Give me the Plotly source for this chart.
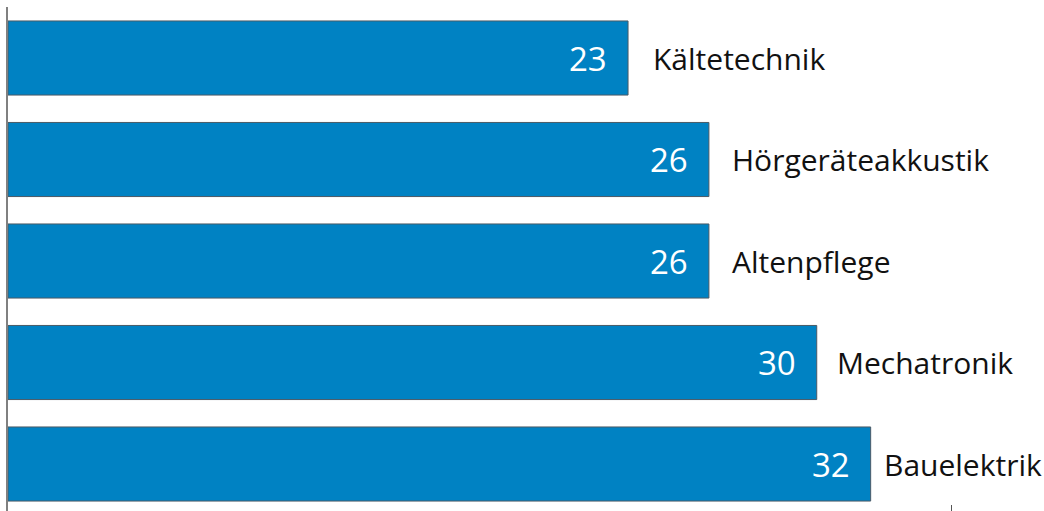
import plotly.graph_objects as go

categories = ["Kältetechnik", "Hörgeräteakkustik", "Altenpflege", "Mechatronik", "Bauelektrik"]
values = [23, 26, 26, 30, 32]
value_labels = ["23", "26", "26", "30", "32"]

label_gap = [23, 21, 21, 18, 11]

BAR = "#0082c3"
FONT = "Open Sans"

fig = go.Figure()
fig.add_trace(go.Bar(
    x=values, y=categories, orientation="h",
    marker=dict(color=BAR, line=dict(color="#4a5a66", width=1)),
    width=0.73, hoverinfo="skip",
))

for c, v, t, g in zip(categories, values, value_labels, label_gap):
    fig.add_annotation(x=v, y=c, text=t, showarrow=False, xanchor="right",
                       xshift=-19, font=dict(family=FONT, size=33, color="white"))
    fig.add_annotation(x=v, y=c, text=c, showarrow=False, xanchor="left",
                       xshift=g, font=dict(family=FONT, size=30, color="#111111"))

fig.update_layout(
    width=1044, height=511,
    margin=dict(l=8, r=0, t=7, b=0),
    paper_bgcolor="white", plot_bgcolor="white",
    showlegend=False,
    xaxis=dict(range=[0, 38.43], showgrid=False, zeroline=False, showline=False,
               tickvals=[35], ticks="inside", ticklen=6, tickcolor="#555555",
               tickwidth=1, showticklabels=False, fixedrange=True),
    yaxis=dict(type="category", categoryorder="array", categoryarray=categories,
               range=[4.463, -0.5025], showgrid=False, zeroline=False,
               showline=True, linecolor="#808080", linewidth=2,
               showticklabels=False, ticks="", fixedrange=True),
)

fig.write_html("out.html", config={"displayModeBar": False},
               post_script="document.body.style.margin='0';document.body.style.overflow='hidden';")
